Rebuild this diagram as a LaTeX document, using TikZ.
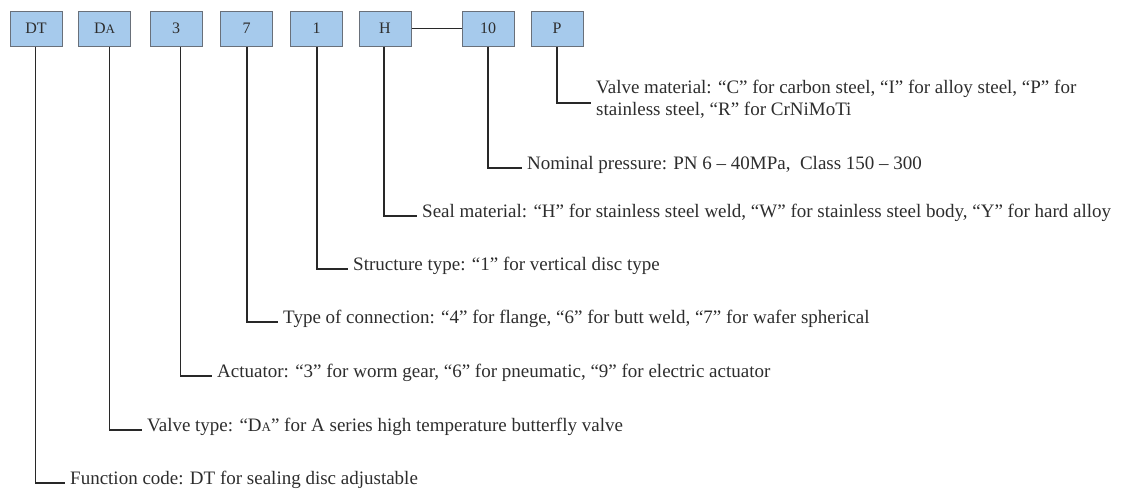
\documentclass[tikz,border=0pt]{standalone}
\usepackage{fontspec}
\setmainfont{Liberation Serif}
\definecolor{boxfill}{RGB}{166,202,236}
\definecolor{boxedge}{RGB}{105,112,122}
\definecolor{leader}{RGB}{40,40,40}
\definecolor{note}{RGB}{45,45,45}
\newcommand{\smallA}{{\fontsize{13}{13}\selectfont A}}
\tikzset{
  codebox/.style={draw=boxedge, line width=1pt, fill=boxfill, minimum width=52pt,
    minimum height=35pt, inner sep=0pt, font=\fontsize{16}{16}\selectfont, text=note},
  leaderline/.style={draw=leader, line width=1.2pt},
  notetext/.style={anchor=west, inner sep=0pt, text=note, align=left,
    font=\fontsize{19}{22}\selectfont}
}
\begin{document}
\begin{tikzpicture}[x=1pt,y=-1pt]
\useasboundingbox (0,0) rectangle (1127,496);
% code boxes
\node[codebox] (dt)  at (36,28.5)    {DT};
\node[codebox] (da)  at (104.5,28.5) {D\smallA};
\node[codebox] (act) at (176,28.5)   {3};
\node[codebox] (con) at (246.5,28.5) {7};
\node[codebox] (str) at (316.5,28.5) {1};
\node[codebox] (sea) at (385,28.5)   {H};
\node[codebox] (pre) at (488,28.5)   {10};
\node[codebox] (mat) at (557,28.5)   {P};
\draw[leaderline] (sea.east) -- (pre.west);
% leader end points
\coordinate (emat) at (591,103);
\coordinate (epre) at (522,168);
\coordinate (esea) at (417,216);
\coordinate (estr) at (348,269);
\coordinate (econ) at (278,322);
\coordinate (eact) at (212,376);
\coordinate (eda)  at (142,430);
\coordinate (edt)  at (65,483);
% leaders
\draw[leaderline] (mat.south) |- (emat);
\draw[leaderline] (pre.south) |- (epre);
\draw[leaderline] ([xshift=-1pt]sea.south) |- (esea);
\draw[leaderline] ([xshift=0.5pt]str.south) |- (estr);
\draw[leaderline] ([xshift=0.5pt]con.south) |- (econ);
\draw[leaderline] ([xshift=4.5pt]act.south) |- (eact);
\draw[leaderline] ([xshift=5pt]da.south) |- (eda);
\draw[leaderline] ([xshift=-0.5pt]dt.south) |- (edt);
% descriptions
\node[notetext] (tmat) at ([xshift=5pt,yshift=4pt]emat) {Valve material: “C” for carbon steel, “I” for alloy steel, “P” for\\stainless steel, “R” for CrNiMoTi};
\node[notetext] (tpre) at ([xshift=5pt,yshift=3pt]epre) {Nominal pressure: PN 6 – 40MPa,\ \ Class 150 – 300};
\node[notetext] (tsea) at ([xshift=5pt,yshift=3pt]esea) {Seal material: “H” for stainless steel weld, “W” for stainless steel body, “Y” for hard alloy};
\node[notetext] (tstr) at ([xshift=5pt,yshift=3pt]estr) {Structure type: “1” for vertical disc type};
\node[notetext] (tcon) at ([xshift=5pt,yshift=3pt]econ) {Type of connection: “4” for flange, “6” for butt weld, “7” for wafer spherical};
\node[notetext] (tact) at ([xshift=5pt,yshift=3pt]eact) {Actuator: “3” for worm gear, “6” for pneumatic, “9” for electric actuator};
\node[notetext] (tda)  at ([xshift=5pt,yshift=3pt]eda)  {Valve type: “D\smallA” for A series high temperature butterfly valve};
\node[notetext] (tdt)  at ([xshift=5pt,yshift=3pt]edt)  {Function code: DT for sealing disc adjustable};
\end{tikzpicture}
\end{document}
